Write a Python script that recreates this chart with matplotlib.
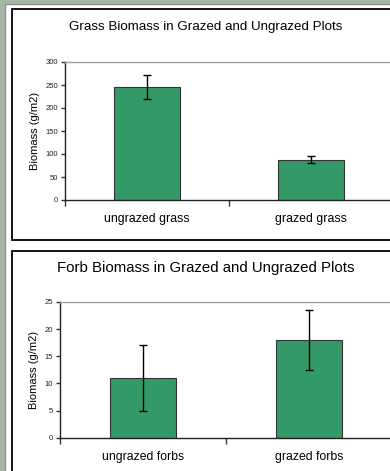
import matplotlib.pyplot as plt
from matplotlib.patches import Rectangle

# data
grass_labels = ['ungrazed grass', 'grazed grass']
grass_mean = [245, 88]
grass_err = [26, 8.5]

forb_labels = ['ungrazed forbs', 'grazed forbs']
forb_mean = [11, 18]
forb_err = [6, 5.5]

W, H = 390, 471
plt.rcParams['font.family'] = ['Liberation Sans', 'DejaVu Sans']

fig = plt.figure(figsize=(W / 100, H / 100), dpi=100)
fig.patch.set_facecolor('#a5b8a5')

def px_rect(x0, y0, x1, y1, **kw):
    # rectangle given in pixel coords (top-left origin), drawn behind the axes
    r = Rectangle((x0 / W, 1 - y1 / H), (x1 - x0) / W, (y1 - y0) / H,
                  transform=fig.transFigure, zorder=-5, **kw)
    fig.add_artist(r)

# white page and the two chart boxes
px_rect(4.5, 4.5, W + 5, H + 5, facecolor='white', edgecolor='#909090', lw=1)
px_rect(12.5, 8.5, W + 5, 239.5, facecolor='white', edgecolor='black', lw=1.3)
px_rect(12.5, 250.5, W + 5, H + 5, facecolor='white', edgecolor='black', lw=1.3)


def draw_panel(rect, labels, means, errs, ymax, ystep, title, title_y, tsize, lsize):
    ax = fig.add_axes(rect)
    ax.set_facecolor('white')
    x = range(len(means))
    ax.bar(x, means, width=0.4, color='#339966', edgecolor='#333333', linewidth=0.8,
           zorder=2)
    ax.errorbar(x, means, yerr=errs, fmt='none', ecolor='black', elinewidth=1,
                capsize=3, capthick=1, zorder=3)
    ax.set_xlim(-0.5, len(means) - 0.5)
    ax.set_ylim(0, ymax)
    ax.set_yticks(range(0, ymax + 1, ystep))
    ax.set_xticks([i + 0.5 for i in range(-1, len(means))])
    ax.set_xticklabels([])
    ax.tick_params(axis='x', length=4, width=1, direction='out', color='#333333')
    ax.tick_params(axis='y', length=3, width=1, direction='out', labelsize=5.5,
                   pad=2, color='#333333', labelcolor='#222222')
    for s in ['left', 'bottom']:
        ax.spines[s].set_color('#222222')
        ax.spines[s].set_linewidth(1)
    ax.spines['top'].set_color('#a0a0a0')
    ax.spines['top'].set_linewidth(1)
    ax.spines['right'].set_visible(False)
    ax.set_ylabel('Biomass (g/m2)', fontsize=8, labelpad=4)
    for i, lab in enumerate(labels):
        ax.text(i, -0.14 * ymax, lab, ha='center', va='center', fontsize=lsize)
    fig.text(206 / W, 1 - title_y / H, title, ha='center', va='center', fontsize=tsize)
    return ax


draw_panel([65 / W, 1 - 200 / H, 328 / W, 138 / H], grass_labels, grass_mean, grass_err,
           300, 50, 'Grass Biomass in Grazed and Ungrazed Plots', 27, 9.6, 8.9)
draw_panel([60 / W, 1 - 437.7 / H, 332 / W, 135.7 / H], forb_labels, forb_mean, forb_err,
           25, 5, 'Forb Biomass in Grazed and Ungrazed Plots', 268, 10.8, 8.8)

fig.savefig('out.png', dpi=100, facecolor=fig.get_facecolor())
